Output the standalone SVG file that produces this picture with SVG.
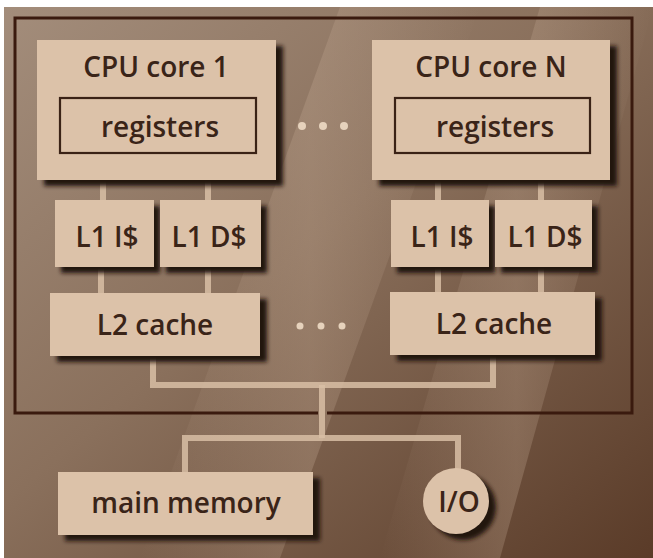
<svg xmlns="http://www.w3.org/2000/svg" width="653" height="558" viewBox="0 0 653 558">
  <defs>
    <linearGradient id="paper" x1="0" y1="0" x2="1" y2="1">
      <stop offset="0" stop-color="#a38d7b"/>
      <stop offset="0.45" stop-color="#8a705c"/>
      <stop offset="1" stop-color="#5a3b28"/>
    </linearGradient>
    <linearGradient id="band" x1="0" y1="0" x2="1" y2="0">
      <stop offset="0" stop-color="#c4aa94" stop-opacity="0"/>
      <stop offset="0.5" stop-color="#c4aa94" stop-opacity="0.3"/>
      <stop offset="1" stop-color="#c4aa94" stop-opacity="0"/>
    </linearGradient>
    <filter id="soft" x="-20%" y="-20%" width="140%" height="140%">
      <feGaussianBlur stdDeviation="2"/>
    </filter>
  </defs>
  <style>
    .box { fill: #dcc2a9; }
    .shadow { fill: #24130b; filter: url(#soft); }
    .inner { fill: none; stroke: #3a2216; stroke-width: 2.2; }
    .frame { fill: none; stroke: #3a1a0e; stroke-width: 3; }
    .wire { fill: none; stroke: #d8bea4; stroke-width: 6; stroke-opacity: 0.85; }
    .dot { fill: #e6d2bc; }
    text { font-family: "Open Sans", "Noto Sans", "Liberation Sans", sans-serif; font-size: 28px; font-weight: 600; fill: #3a2418; text-anchor: middle; }
  </style>

  <!-- backdrop -->
  <rect width="653" height="558" fill="#ffffff"/>
  <rect x="4" y="7" width="649" height="551" fill="url(#paper)"/>
  <g>
    <polygon points="340,7 480,7 280,558 140,558" fill="url(#band)"/>
    <polygon points="540,7 653,7 500,558 380,558" fill="url(#band)"/>
  </g>

  <!-- chip outline, broken where the memory bus leaves -->
  <path class="frame" d="M318,413 L15,413 L15,18 L632,18 L632,413 L327,413"/>

  <!-- connectors -->
  <g id="connectors">
    <line class="wire" x1="103" y1="180" x2="103" y2="202"/>
    <line class="wire" x1="208" y1="180" x2="208" y2="202"/>
    <line class="wire" x1="438" y1="180" x2="438" y2="202"/>
    <line class="wire" x1="541" y1="180" x2="541" y2="202"/>
    <line class="wire" x1="101" y1="268" x2="101" y2="294"/>
    <line class="wire" x1="208" y1="268" x2="208" y2="294"/>
    <line class="wire" x1="438" y1="268" x2="438" y2="294"/>
    <line class="wire" x1="541" y1="268" x2="541" y2="294"/>
    <polyline class="wire" points="153,356 153,385 493,385 493,355"/>
    <line class="wire" x1="322" y1="385" x2="322" y2="438"/>
    <polyline class="wire" points="185,472 185,438 458,438 458,470"/>
  </g>

  <!-- ellipsis between the cores and between the L2 caches -->
  <g id="ellipsis">
    <circle class="dot" cx="302" cy="126" r="4"/>
    <circle class="dot" cx="323" cy="126" r="4"/>
    <circle class="dot" cx="344" cy="126" r="4"/>
    <circle class="dot" cx="300" cy="326" r="3.5"/>
    <circle class="dot" cx="321" cy="326" r="3.5"/>
    <circle class="dot" cx="342" cy="326" r="3.5"/>
  </g>

  <g id="core1">
    <rect class="shadow" x="44" y="46" width="239" height="140"/>
    <rect class="box" x="37" y="40" width="239" height="140"/>
    <text x="156" y="77">CPU core 1</text>
    <g id="core1-registers">
      <rect class="inner" x="60" y="98" width="196" height="55"/>
      <text x="160" y="137">registers</text>
    </g>
  </g>

  <g id="core1-l1i">
    <rect class="shadow" x="61" y="206" width="99" height="67"/>
    <rect class="box" x="55" y="200" width="99" height="67"/>
    <text x="107" y="247">L1 I$</text>
  </g>
  <g id="core1-l1d">
    <rect class="shadow" x="166" y="206" width="101" height="67"/>
    <rect class="box" x="160" y="200" width="101" height="67"/>
    <text x="209" y="247">L1 D$</text>
  </g>

  <g id="core1-l2">
    <rect class="shadow" x="57" y="299" width="210" height="63"/>
    <rect class="box" x="50" y="293" width="210" height="63"/>
    <text x="155" y="335">L2 cache</text>
  </g>

  <g id="coreN">
    <rect class="shadow" x="379" y="46" width="238" height="140"/>
    <rect class="box" x="372" y="40" width="238" height="140"/>
    <text x="491" y="77">CPU core N</text>
    <g id="coreN-registers">
      <rect class="inner" x="395" y="98" width="195" height="55"/>
      <text x="495" y="137">registers</text>
    </g>
  </g>

  <g id="coreN-l1i">
    <rect class="shadow" x="397" y="206" width="98" height="67"/>
    <rect class="box" x="391" y="200" width="98" height="67"/>
    <text x="442" y="247">L1 I$</text>
  </g>
  <g id="coreN-l1d">
    <rect class="shadow" x="501" y="206" width="97" height="67"/>
    <rect class="box" x="495" y="200" width="97" height="67"/>
    <text x="545" y="247">L1 D$</text>
  </g>

  <g id="coreN-l2">
    <rect class="shadow" x="397" y="298" width="205" height="63"/>
    <rect class="box" x="390" y="292" width="205" height="63"/>
    <text x="494" y="334">L2 cache</text>
  </g>

  <g id="main-memory">
    <rect class="shadow" x="65" y="478" width="255" height="63"/>
    <rect class="box" x="58" y="472" width="255" height="63"/>
    <text x="186" y="513">main memory</text>
  </g>

  <g id="io">
    <circle class="shadow" cx="463" cy="507" r="33"/>
    <circle class="box" cx="456" cy="501" r="33"/>
    <text x="459" y="512">I/O</text>
  </g>
</svg>
